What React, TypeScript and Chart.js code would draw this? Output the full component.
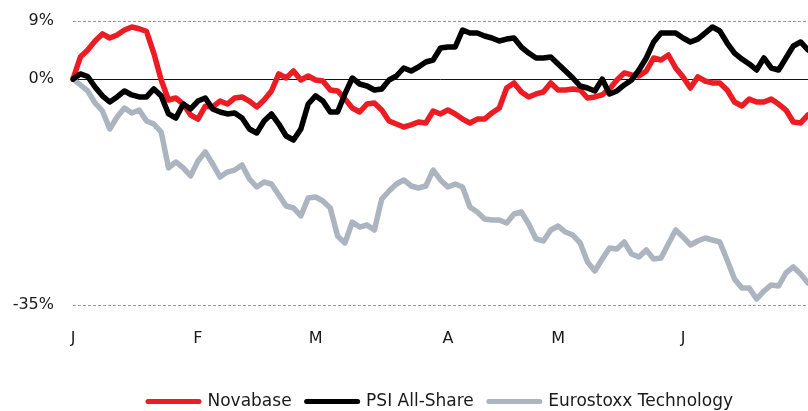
import { useEffect, useRef } from 'react';
import { Chart, registerables } from 'chart.js';

Chart.register(...registerables);

const FONT = 'DejaVu Sans';

const monthLabels = ['J', 'F', 'M', 'A', 'M', 'J'];
const monthStarts = [0, 17, 33, 51, 66, 83];
const yTicks = [9, 0, -35];
const seriesNames = ['Novabase', 'PSI All-Share', 'Eurostoxx Technology'];

const novabase = [
  0, 3.42, 4.51, 5.9, 7.0, 6.37, 6.83, 7.6, 8.07, 7.8,
  7.4, 4.0, -0.14, -3.24, -2.93, -3.86, -5.56, -6.2, -4.2, -4.32,
  -3.4, -3.86, -2.93, -2.77, -3.4, -4.32, -3.24, -1.84, 0.8, 0.17,
  1.25, -0.14, 0.48, -0.14, -0.3, -1.69, -1.84, -3.1, -4.48, -5.1,
  -3.86, -3.7, -4.79, -6.5, -6.96, -7.42, -7.1, -6.65, -6.8, -4.95,
  -5.4, -4.79, -5.4, -6.2, -6.8, -6.2, -6.2, -5.25, -4.48, -1.38,
  -0.6, -2.0, -2.77, -2.3, -2.0, -0.6, -1.69, -1.69, -1.53, -1.69,
  -2.93, -2.77, -2.46, -1.53, -0.14, 0.95, 0.64, 0.48, 1.25, 3.27,
  2.96, 3.73, 1.72, 0.33, -1.38, 0.33, -0.3, -0.6, -0.6, -1.69,
  -3.55, -4.17, -3.1, -3.55, -3.55, -3.1, -3.86, -4.79, -6.65, -6.8,
  -5.56,
];

const psiAllShare = [
  0, 0.8, 0.4, -1.22, -2.6, -3.55, -2.77, -1.84, -2.46, -2.77,
  -2.77, -1.53, -2.6, -5.4, -6.03, -3.86, -4.63, -3.4, -2.93, -4.63,
  -5.1, -5.4, -5.25, -6.03, -7.73, -8.35, -6.5, -5.4, -6.96, -8.82,
  -9.44, -7.73, -3.86, -2.6, -3.4, -5.1, -5.1, -2.3, 0.17, -0.76,
  -1.07, -1.69, -1.53, -0.14, 0.48, 1.72, 1.25, 1.87, 2.65, 2.96,
  4.82, 4.97, 4.97, 7.61, 7.14, 7.14, 6.68, 6.37, 5.9, 6.2,
  6.37, 4.97, 4.04, 3.27, 3.27, 3.42, 2.34, 1.25, 0.17, -1.07,
  -1.38, -1.84, 0, -2.3, -1.84, -0.91, -0.14, 1.41, 3.27, 5.75,
  7.14, 7.14, 7.14, 6.37, 5.75, 6.2, 7.14, 8.07, 7.45, 5.59,
  4.04, 3.11, 2.34, 1.41, 3.27, 1.72, 1.41, 3.27, 5.13, 5.75,
  4.51,
];

const eurostoxxTech = [
  0, -0.91, -1.84, -3.7, -4.94, -7.73, -5.87, -4.48, -5.25, -4.79,
  -6.5, -6.96, -8.2, -13.77, -12.84, -13.77, -15.0, -12.7, -11.29, -13.15,
  -15.17, -14.4, -14.09, -13.31, -15.48, -16.72, -15.94, -16.25, -17.96, -19.66,
  -19.97, -21.2, -18.42, -18.27, -18.89, -19.97, -24.3, -25.39, -22.14, -22.92,
  -22.61, -23.38, -18.58, -17.34, -16.25, -15.63, -16.56, -16.87, -16.56, -14.09,
  -15.63, -16.72, -16.25, -16.72, -19.82, -20.59, -21.68, -21.83, -21.83, -22.3,
  -20.9, -20.59, -22.45, -24.77, -25.08, -23.38, -22.76, -23.7, -24.16, -25.39,
  -28.34, -29.73, -27.87, -26.17, -26.33, -25.24, -27.1, -27.56, -26.48, -27.87,
  -27.72, -25.55, -23.38, -24.46, -25.7, -25.08, -24.62, -24.93, -25.24, -28.03,
  -30.97, -32.37, -32.37, -34.08, -32.84, -31.9, -32.06, -30.04, -29.1, -30.2,
  -31.59,
];

const RED = 'rgb(236, 28, 36)';
const BLACK = 'rgb(0, 0, 0)';
const GREY = 'rgb(172, 181, 191)';

export default function App() {
  const ref = useRef<HTMLCanvasElement>(null);

  useEffect(() => {
    const labels = novabase.map((_, i) => {
      const k = monthStarts.indexOf(i);
      return k >= 0 ? monthLabels[k] : '';
    });
    const mk = (label: string, data: number[], color: string, order: number) => ({
      label,
      data,
      borderColor: color,
      backgroundColor: color,
      pointBorderWidth: 5,
      order,
    });
    const chart = new Chart(ref.current as HTMLCanvasElement, {
      type: 'line',
      data: {
        labels,
        datasets: [
          mk(seriesNames[0], novabase, RED, 1),
          mk(seriesNames[1], psiAllShare, BLACK, 0),
          mk(seriesNames[2], eurostoxxTech, GREY, 2),
        ],
      },
      options: {
        responsive: false,
        animation: false,
        devicePixelRatio: 1,
        layout: { padding: { top: 21, left: 0, right: 0, bottom: 0 } },
        elements: {
          point: { radius: 0, hoverRadius: 0 },
          line: { borderWidth: 5.5, tension: 0, borderJoinStyle: 'round', borderCapStyle: 'round' },
        },
        plugins: {
          legend: {
            position: 'bottom',
            fullSize: false,
            labels: {
              usePointStyle: true,
              pointStyle: 'line',
              pointStyleWidth: 51,
              padding: 15,
              color: '#1a1a1a',
              font: { family: FONT, size: 17 },
              sort: (a: any, b: any) => a.datasetIndex - b.datasetIndex,
              generateLabels: (c: any) =>
                (Chart.defaults.plugins.legend.labels.generateLabels as any)(c).map((it: any) => ({
                  ...it,
                  lineCap: 'round',
                  lineWidth: 5,
                })),
            },
          },
          tooltip: { enabled: false },
        },
        scales: {
          x: {
            type: 'category',
            grid: { display: false },
            border: { display: false },
            afterBuildTicks: (s: any) => {
              s.ticks = monthStarts.map((v) => ({ value: v }));
            },
            afterFit: (s: any) => {
              s.height = 73;
            },
            ticks: {
              autoSkip: false,
              maxRotation: 0,
              minRotation: 0,
              padding: 16,
              color: '#1a1a1a',
              font: { family: FONT, size: 16 },
            },
          },
          y: {
            min: -35,
            max: 9,
            afterBuildTicks: (s: any) => {
              s.ticks = yTicks.map((v) => ({ value: v }));
            },
            afterFit: (s: any) => {
              s.width = 73;
            },
            ticks: {
              padding: 11,
              color: '#1a1a1a',
              font: { family: FONT, size: 16 },
              callback: (v: any) => `${v}%`,
            },
            grid: {
              drawTicks: true,
              tickLength: 8,
              tickColor: 'rgba(0,0,0,0)',
              lineWidth: 1,
              color: (ctx: any) => (ctx.tick && ctx.tick.value === 0 ? 'rgba(0,0,0,0)' : '#9a9a9a'),
            },
            border: { display: false, dash: [3, 2] },
          },
          y2: {
            position: 'right',
            min: -35,
            max: 9,
            afterBuildTicks: (s: any) => {
              s.ticks = [{ value: 0 }];
            },
            afterFit: (s: any) => {
              s.width = 0;
            },
            ticks: { display: false },
            grid: { drawTicks: false, lineWidth: 1, color: '#111' },
            border: { display: false },
          },
        },
      },
    });
    return () => chart.destroy();
  }, []);

  return (
    <div style={{ position: 'fixed', left: 0, top: 0, width: 808, height: 411, overflow: 'hidden', background: '#fff' }}>
      <canvas ref={ref} width={808} height={420} style={{ display: 'block', width: 808, height: 420 }} />
    </div>
  );
}
